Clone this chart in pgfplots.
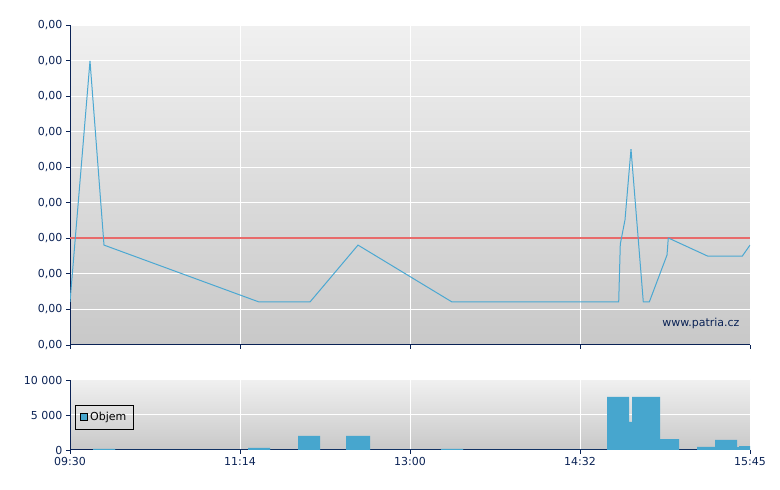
\documentclass[border=0pt]{standalone}
\usepackage{pgfplots}
\pgfplotsset{compat=1.18}
\usepackage{fontspec}
\setmainfont{DejaVu Sans}
\definecolor{navy}{HTML}{0A2255}
\definecolor{lineblue}{HTML}{4BA8D2}
\definecolor{barblue}{HTML}{47A6CE}
\definecolor{myred}{HTML}{E86A6A}
\definecolor{bgtop}{HTML}{F0F0F0}
\definecolor{bgbot}{HTML}{C8C8C8}
\begin{document}
\begin{tikzpicture}
\path[use as bounding box] (0pt,0pt) rectangle (780pt,490pt);
\pgfplotsset{every axis/.append style={
  scale only axis, width=680pt, xmin=0, xmax=680,
  axis x line*=bottom, axis y line*=left,
  axis line style={navy, line width=1pt, -},
  tick style={navy, line width=0.8pt},
  major tick length=4pt, tick align=outside,
  grid=major, major grid style={white, line width=1pt},
  tick label style={font=\fontsize{11}{13}\selectfont, text=navy},
  /pgf/number format/assume math mode=true,
  xtick={0,170,340,510,680},
  axis background/.style={shade, top color=bgtop, bottom color=bgbot},
}}
\begin{axis}[at={(70pt,145pt)}, anchor=south west, height=320pt,
  ymin=0, ymax=9, ytick={0,1,2,3,4,5,6,7,8,9}, yticklabel={0,00},
  xticklabels={}]
\addplot[draw=myred, line width=1.2pt] coordinates {(0,3.01) (680,3.01)};
\addplot[draw=lineblue, line width=1pt] coordinates {
(0,1.21) (20,7.99) (34,2.81) (189,1.21) (240,1.21) (288,2.81) (382,1.21)
(548.7,1.21) (550.3,2.84) (555,3.52) (561,5.51) (573.3,1.21) (579.3,1.21)
(597,2.53) (598.3,3.01) (637.7,2.50) (672.3,2.50) (680,2.81)};
\end{axis}
\node[anchor=base east, text=navy, font=\fontsize{11}{13}\selectfont] at (743pt,163pt) {www.patria.cz};
\begin{axis}[at={(70pt,40pt)}, anchor=south west, height=70pt,
  ymin=0, ymax=10000, ytick={0,5000,10000}, yticklabels={0,5 000,10 000},
  scaled y ticks=false,
  xticklabels={09:30,11:14,13:00,14:32,15:45},
  legend style={at={(0.0074,0.643)}, anchor=north west, fill=none, draw=black,
    line width=0.8pt, font=\fontsize{11}{13}\selectfont, inner xsep=5pt, inner ysep=5pt},
  legend image code/.code={\draw[fill=barblue,draw=black,line width=0.8pt] (0pt,-3.5pt) rectangle (7pt,3.5pt);}]
\addplot[fill=barblue, draw=none] coordinates {
(23,0) (23,150) (45,150) (45,0)
(178,0) (178,300) (200,300) (200,0)
(228,0) (228,2000) (250,2000) (250,0)
(276,0) (276,2000) (300,2000) (300,0)
(371,0) (371,150) (393,150) (393,0)
(537,0) (537,7600) (559,7600) (559,4000) (562,4000) (562,7600) (590,7600) (590,1570) (609,1570) (609,0)
(627,0) (627,430) (645,430) (645,1430) (667,1430) (667,400) (669,400) (669,570) (680,570) (680,0)} \closedcycle;
\addlegendentry{Objem}
\end{axis}
\end{tikzpicture}
\end{document}
